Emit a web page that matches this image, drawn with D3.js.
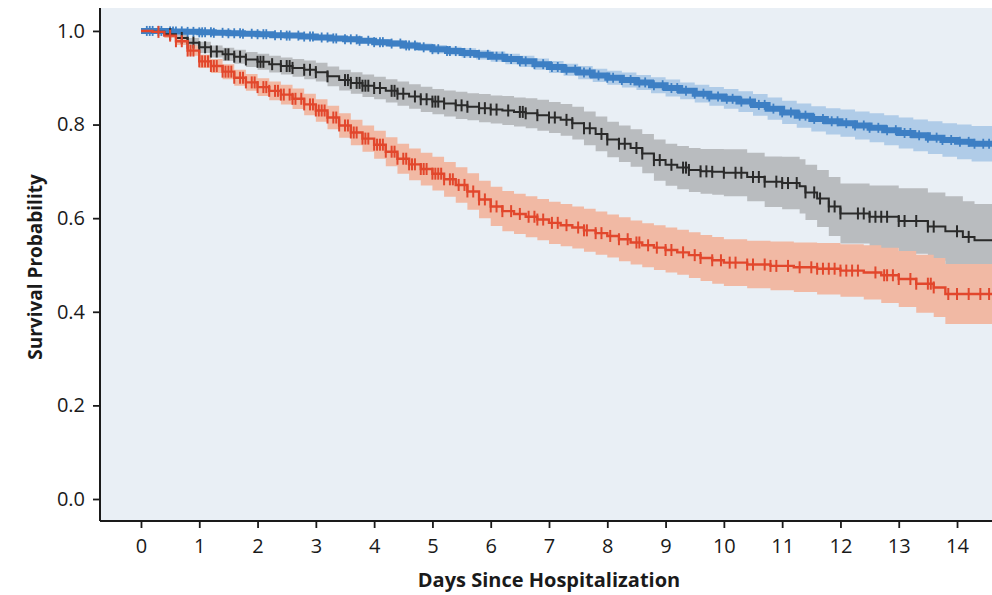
<!DOCTYPE html>
<html><head><meta charset="utf-8">
<script src="https://cdn.jsdelivr.net/npm/d3@7"></script>
<style>body{margin:0;background:#fff}svg{display:block}</style>
</head><body>
<svg id="c" width="992" height="595"></svg>
<script>
// ---- data ----
const xTicks = [0,1,2,3,4,5,6,7,8,9,10,11,12,13,14];
const yTicks = [0,0.2,0.4,0.6,0.8,1.0];

// Blue group: time, survival estimate, CI half-width, censor times
const blueTime = [0,0.25,0.5,0.75,1,1.25,1.5,1.75,2,2.25,2.5,2.75,3,3.25,3.5,3.75,4,4.25,4.5,4.75,5,5.25,5.5,5.75,6,6.25,6.5,6.75,7,7.25,7.5,7.75,8,8.25,8.5,8.75,9,9.25,9.5,9.75,10,10.25,10.5,10.75,11,11.25,11.5,11.75,12,12.25,12.5,12.75,13,13.25,13.5,13.75,14,14.25,14.6];
const blueSurv = [1.0,1.0,0.999,0.998,0.997,0.996,0.995,0.994,0.993,0.991,0.99,0.988,0.986,0.984,0.982,0.979,0.976,0.973,0.969,0.965,0.961,0.957,0.953,0.949,0.945,0.94,0.935,0.929,0.923,0.917,0.911,0.905,0.9,0.895,0.89,0.884,0.878,0.872,0.866,0.86,0.855,0.849,0.842,0.834,0.826,0.819,0.812,0.807,0.803,0.798,0.793,0.788,0.782,0.777,0.772,0.767,0.763,0.759,0.755];
const blueCI = [0,0.001,0.001,0.002,0.002,0.003,0.003,0.003,0.004,0.004,0.004,0.005,0.005,0.005,0.006,0.006,0.007,0.007,0.008,0.008,0.009,0.009,0.01,0.01,0.011,0.011,0.012,0.012,0.013,0.013,0.014,0.014,0.015,0.016,0.016,0.017,0.018,0.018,0.019,0.02,0.021,0.022,0.023,0.024,0.025,0.026,0.027,0.028,0.029,0.03,0.031,0.032,0.033,0.034,0.035,0.036,0.037,0.038,0.04];
const blueCensor = [0.1,0.15,0.2,0.3,0.35,0.5,0.55,0.6,0.7,0.8,0.9,1.0,1.05,1.1,1.2,1.25,1.4,1.5,1.6,1.7,1.75,1.9,2.0,2.1,2.15,2.3,2.4,2.5,2.55,2.7,2.8,2.9,2.95,3.1,3.2,3.3,3.35,3.5,3.6,3.7,3.75,3.9,4.0,4.1,4.15,4.3,4.45,4.55,4.6,4.7,4.85,5.0,5.1,5.25,5.3,5.4,5.55,5.65,5.8,5.95,6.1,6.2,6.35,6.5,6.6,6.75,6.9,7.05,7.15,7.3,7.45,7.6,7.7,7.85,8.0,8.1,8.25,8.4,8.55,8.65,8.8,8.95,9.1,9.2,9.35,9.5,9.65,9.75,9.9,10.05,10.15,10.3,10.45,10.6,10.7,10.85,11.0,11.15,11.3,11.4,11.55,11.7,11.85,11.95,12.1,12.25,12.4,12.5,12.65,12.8,12.95,13.1,13.2,13.35,13.5,13.65,13.75,13.9,14.05,14.2,14.3,14.45,14.55];

// Grey/black group
const greyTime = [0,0.2,0.4,0.6,0.8,1.0,1.2,1.4,1.6,1.8,2.0,2.2,2.4,2.6,2.8,3.0,3.2,3.4,3.6,3.8,4.0,4.2,4.4,4.6,4.8,5.0,5.2,5.4,5.6,5.8,6.0,6.2,6.4,6.6,6.8,7.0,7.2,7.4,7.6,7.8,8.0,8.2,8.4,8.6,8.8,9.0,9.2,9.4,9.6,9.8,10.0,10.4,10.7,11.0,11.3,11.4,11.6,11.8,12.0,12.5,13.0,13.5,13.8,14.1,14.3,14.6];
const greySurv = [1.0,0.998,0.993,0.985,0.975,0.965,0.956,0.95,0.945,0.939,0.934,0.929,0.925,0.921,0.917,0.912,0.903,0.895,0.889,0.883,0.878,0.872,0.866,0.86,0.854,0.849,0.845,0.841,0.838,0.835,0.832,0.83,0.827,0.824,0.82,0.815,0.81,0.803,0.792,0.78,0.768,0.759,0.75,0.738,0.724,0.714,0.708,0.703,0.7,0.699,0.697,0.688,0.678,0.675,0.668,0.655,0.642,0.625,0.61,0.603,0.594,0.582,0.572,0.56,0.553,0.553];
const greyCI = [0,0.002,0.005,0.008,0.01,0.012,0.013,0.014,0.015,0.016,0.017,0.018,0.018,0.019,0.02,0.02,0.021,0.022,0.023,0.024,0.024,0.025,0.026,0.026,0.027,0.027,0.028,0.029,0.029,0.03,0.03,0.031,0.031,0.032,0.033,0.033,0.034,0.035,0.036,0.037,0.038,0.039,0.04,0.042,0.044,0.045,0.046,0.047,0.048,0.049,0.05,0.052,0.054,0.056,0.058,0.059,0.061,0.063,0.064,0.067,0.07,0.073,0.075,0.076,0.077,0.078];
const greyCensor = [0.5,0.7,0.8,0.9,1.0,1.1,1.2,1.3,1.45,1.5,1.6,1.7,1.8,2.0,2.05,2.1,2.25,2.4,2.5,2.55,2.6,2.8,2.9,3.0,3.2,3.5,3.55,3.6,3.7,3.75,3.8,3.85,3.9,4.0,4.1,4.3,4.35,4.4,4.5,4.7,4.8,4.9,5.0,5.05,5.1,5.2,5.4,5.5,5.6,5.8,5.9,6.0,6.1,6.3,6.5,6.55,6.6,6.8,7.0,7.1,7.3,7.4,7.6,7.7,7.9,8.0,8.2,8.3,8.5,8.6,8.8,8.9,9.1,9.3,9.35,9.4,9.6,9.7,9.8,10.0,10.2,10.3,10.5,10.6,10.7,10.9,11.0,11.1,11.25,11.4,11.55,11.65,11.8,11.9,12.0,12.3,12.4,12.5,12.6,12.7,12.8,13.0,13.1,13.3,13.5,13.6,14.0,14.2];

// Red group
const redTime = [0,0.2,0.4,0.6,0.8,1.0,1.2,1.4,1.6,1.8,2.0,2.2,2.4,2.6,2.8,3.0,3.2,3.4,3.6,3.8,4.0,4.2,4.4,4.6,4.8,5.0,5.2,5.4,5.6,5.8,6.0,6.2,6.4,6.6,6.8,7.0,7.2,7.4,7.6,7.8,8.0,8.2,8.4,8.6,8.8,9.0,9.2,9.4,9.6,9.8,10.0,10.4,10.8,11.2,11.6,12.0,12.4,12.7,13.0,13.3,13.6,13.8,14.6];
const redSurv = [1.0,0.998,0.99,0.978,0.958,0.935,0.925,0.913,0.9,0.89,0.88,0.872,0.864,0.855,0.843,0.83,0.815,0.798,0.783,0.77,0.757,0.742,0.727,0.715,0.705,0.695,0.683,0.671,0.657,0.64,0.625,0.615,0.609,0.603,0.597,0.59,0.585,0.58,0.574,0.568,0.562,0.555,0.548,0.542,0.537,0.532,0.527,0.521,0.515,0.51,0.505,0.501,0.498,0.495,0.492,0.488,0.484,0.478,0.47,0.46,0.452,0.438,0.436];
const redCI = [0,0.002,0.005,0.008,0.011,0.014,0.015,0.016,0.017,0.018,0.019,0.02,0.021,0.022,0.023,0.024,0.025,0.026,0.027,0.028,0.03,0.031,0.032,0.034,0.035,0.036,0.037,0.038,0.039,0.04,0.042,0.043,0.043,0.044,0.044,0.045,0.045,0.045,0.046,0.046,0.046,0.047,0.047,0.047,0.048,0.048,0.048,0.049,0.049,0.05,0.05,0.051,0.052,0.053,0.055,0.056,0.058,0.059,0.06,0.062,0.063,0.064,0.066];
const redCensor = [0.3,0.5,0.6,0.7,0.8,0.85,0.9,1.0,1.05,1.1,1.15,1.2,1.25,1.3,1.4,1.45,1.5,1.55,1.6,1.7,1.75,1.8,1.9,1.95,2.0,2.1,2.15,2.2,2.3,2.35,2.4,2.45,2.55,2.6,2.65,2.75,2.8,2.9,2.95,3.0,3.05,3.1,3.15,3.2,3.3,3.35,3.4,3.5,3.55,3.6,3.65,3.7,3.8,3.85,3.9,4.0,4.05,4.1,4.15,4.2,4.3,4.35,4.4,4.5,4.55,4.6,4.65,4.7,4.8,4.85,4.9,5.0,5.05,5.1,5.15,5.2,5.3,5.35,5.45,5.55,5.6,5.7,5.8,5.9,6.0,6.1,6.2,6.35,6.5,6.65,6.75,6.8,6.9,7.05,7.15,7.3,7.5,7.6,7.65,7.8,7.9,8.05,8.2,8.35,8.5,8.55,8.7,8.85,9.0,9.1,9.3,9.5,9.6,9.8,9.95,10.1,10.2,10.4,10.5,10.7,10.8,10.9,11.1,11.3,11.5,11.6,11.7,11.8,11.9,12.0,12.1,12.2,12.3,12.6,12.75,12.8,12.9,13.0,13.2,13.3,13.5,13.55,13.6,13.85,14.0,14.2,14.4,14.55];

// ---- layout ----
const L = 100, R = 992, T = 8, B = 521;
const svg = d3.select("#c");
const x = d3.scaleLinear().domain([-0.703, 14.6]).range([L, R]);
const y = d3.scaleLinear().domain([-0.047, 1.049]).range([B, T]);

svg.append("rect").attr("x", L).attr("y", T).attr("width", R - L).attr("height", B - T).attr("fill", "#e9eff5");
svg.append("clipPath").attr("id", "clip").append("rect").attr("x", L).attr("y", T).attr("width", R - L).attr("height", B - T);
const g = svg.append("g").attr("clip-path", "url(#clip)");

const groups = [
  {time: blueTime, surv: blueSurv, ci: blueCI, cen: blueCensor, line: "#3d7fc4", band: "#b0cce8", lw: 6, mh: 5, mw: 1.8},
  {time: greyTime, surv: greySurv, ci: greyCI, cen: greyCensor, line: "#2a2a2a", band: "#b9bcbf", lw: 2, mh: 6, mw: 2},
  {time: redTime, surv: redSurv, ci: redCI, cen: redCensor, line: "#e2472c", band: "#f1b9a4", lw: 2.4, mh: 6, mw: 2}
];

// bands
groups.forEach(gr => {
  const pts = gr.time.map((t, i) => ({t, lo: gr.surv[i] - gr.ci[i], hi: Math.min(1, gr.surv[i] + gr.ci[i])}));
  g.append("path").datum(pts)
    .attr("fill", gr.band)
    .attr("d", d3.area().curve(d3.curveStepAfter).x(d => x(d.t)).y0(d => y(d.lo)).y1(d => y(d.hi)));
});
// lines + censor marks
groups.forEach(gr => {
  const pts = gr.time.map((t, i) => ({t, s: gr.surv[i]}));
  g.append("path").datum(pts)
    .attr("fill", "none").attr("stroke", gr.line).attr("stroke-width", gr.lw)
    .attr("d", d3.line().curve(d3.curveStepAfter).x(d => x(d.t)).y(d => y(d.s)));
  const bis = d3.bisector(d => d).right;
  const sAt = t => gr.surv[Math.max(0, bis(gr.time, t) - 1)];
  g.append("g").selectAll("line").data(gr.cen).join("line")
    .attr("x1", d => x(d)).attr("x2", d => x(d))
    .attr("y1", d => y(sAt(d)) - gr.mh)
    .attr("y2", d => y(sAt(d)) + gr.mh)
    .attr("stroke", gr.line).attr("stroke-width", gr.mw);
});

// axes
const font = "'Open Sans', 'Noto Sans', sans-serif";
const xAxis = svg.append("g").attr("transform", `translate(0,${B})`)
  .call(d3.axisBottom(x).tickValues(xTicks).tickSize(7).tickPadding(11).tickFormat(d3.format("d")));
xAxis.select(".domain").attr("d", `M${L},0H${R}`);
const yAxis = svg.append("g").attr("transform", `translate(${L},0)`)
  .call(d3.axisLeft(y).tickValues(yTicks).tickSize(7).tickPadding(8).tickFormat(d3.format(".1f")));
yAxis.select(".domain").attr("d", `M0,${T}V${B}`);
[xAxis, yAxis].forEach(a => {
  a.select(".domain").attr("stroke", "#1a1a1a").attr("stroke-width", 2);
  a.selectAll(".tick line").attr("stroke", "#1a1a1a").attr("stroke-width", 1.8);
  a.selectAll("text").attr("fill", "#1a1a1a").style("font-family", font).style("font-size", "20px");
});

svg.append("text").attr("x", 549).attr("y", 587).attr("text-anchor", "middle")
  .style("font-family", font).style("font-weight", "bold").style("font-size", "20px")
  .attr("fill", "#1a1a1a").text("Days Since Hospitalization");
svg.append("text").attr("transform", "translate(42,267) rotate(-90)").attr("text-anchor", "middle")
  .style("font-family", font).style("font-weight", "bold").style("font-size", "19px")
  .attr("fill", "#1a1a1a").text("Survival Probability");
</script>
</body></html>
